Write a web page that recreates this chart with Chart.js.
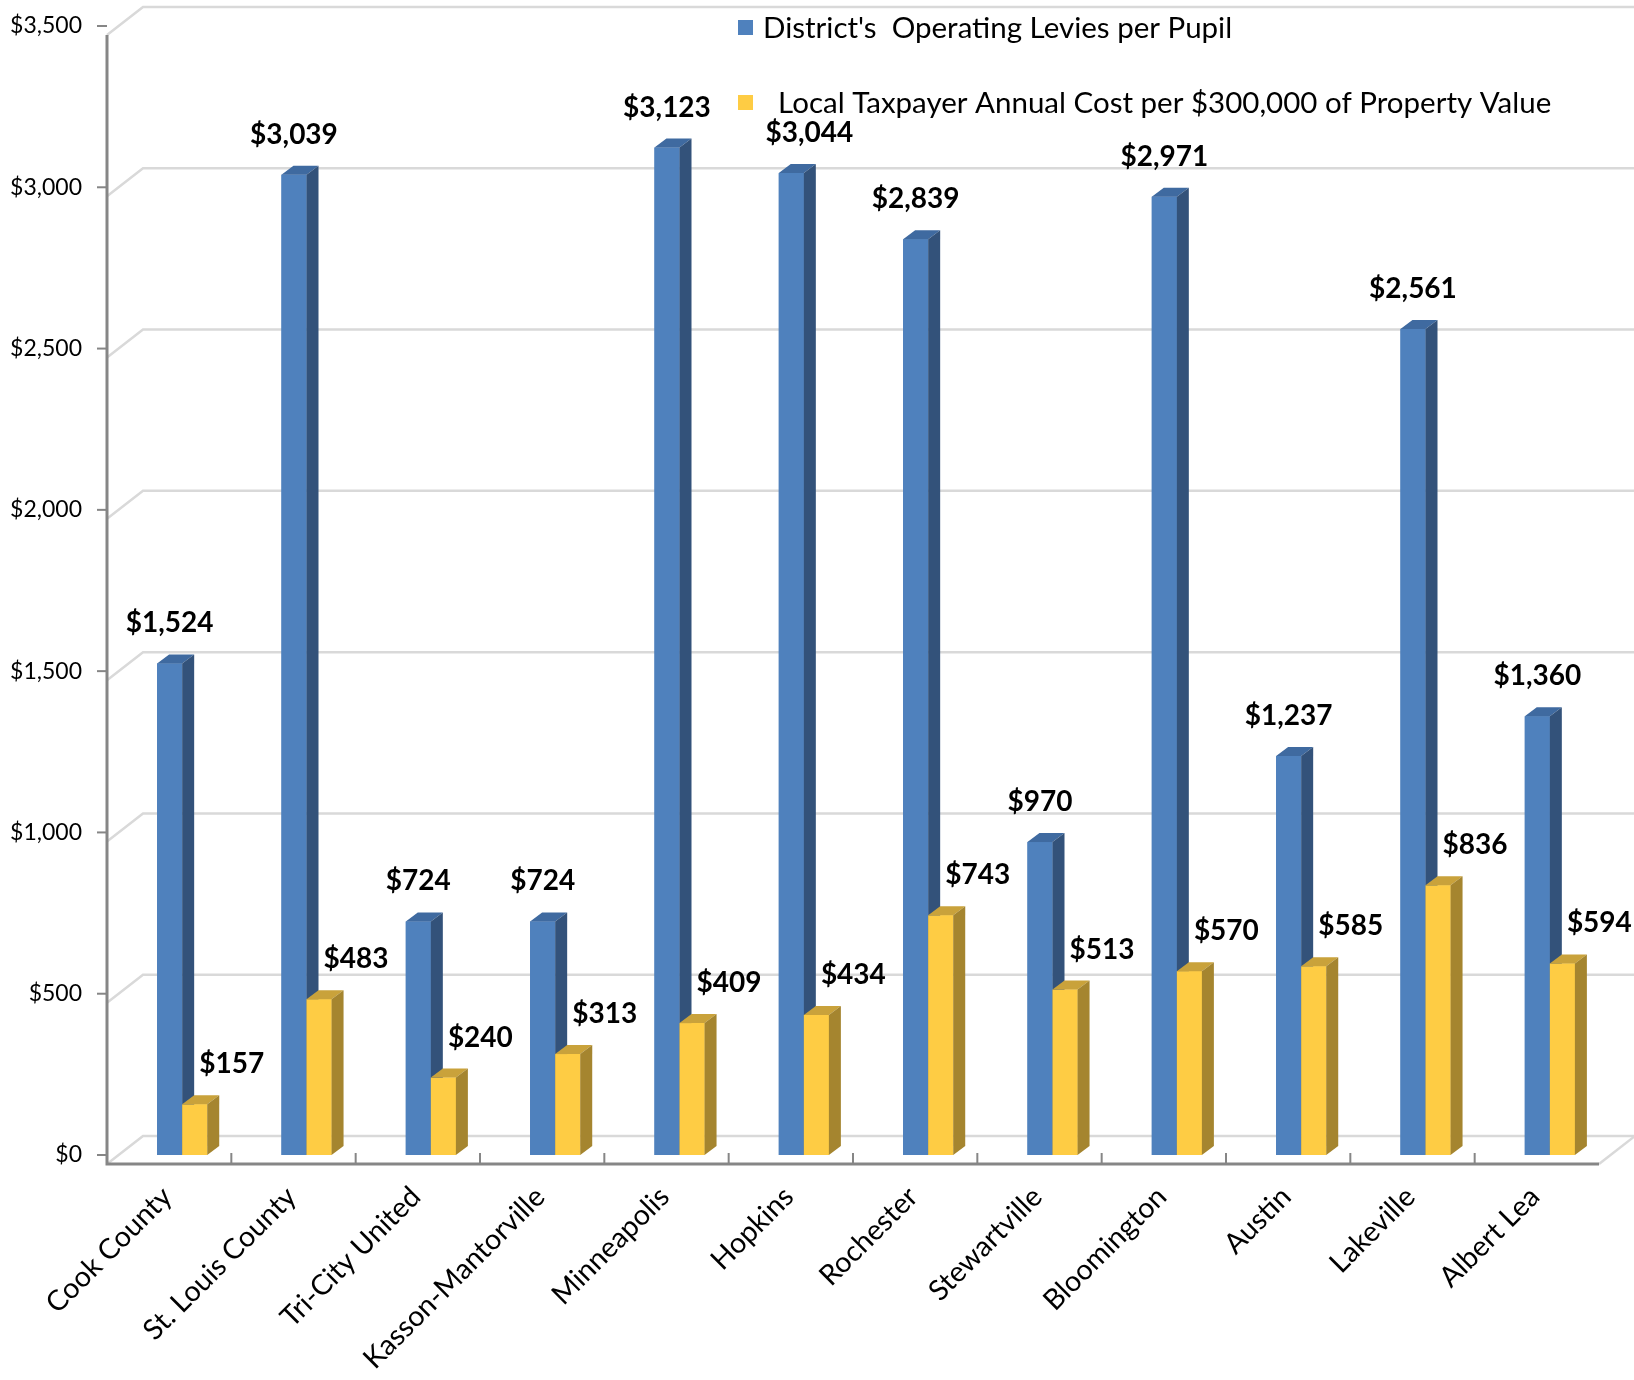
<!DOCTYPE html>
<html>
<head>
<meta charset="utf-8">
<script src="https://cdn.jsdelivr.net/npm/chart.js@4.4.1/dist/chart.umd.min.js"></script>
<style>
  html, body { margin: 0; padding: 0; background: #fff; }
  #wrap { width: 1634px; height: 1380px; position: relative; }
</style>
</head>
<body>
<div id="wrap"><canvas id="chart"></canvas></div>
<script>
// === Data ===
const districts = ["Cook County", "St. Louis County", "Tri-City United", "Kasson-Mantorville", "Minneapolis", "Hopkins",
  "Rochester", "Stewartville", "Bloomington", "Austin", "Lakeville", "Albert Lea"];
const leviesPerPupil = [1524, 3039, 724, 724, 3123, 3044, 2839, 970, 2971, 1237, 2561, 1360];
const taxpayerCost = [157, 483, 240, 313, 409, 434, 743, 513, 570, 585, 836, 594];
const yTicks = [0, 500, 1000, 1500, 2000, 2500, 3000, 3500];
const seriesNames = ["District's  Operating Levies per Pupil", "  Local Taxpayer Annual Cost per $300,000 of Property Value"];

const FONT = "Lato, 'Open Sans', sans-serif";
const money = (v) => "$" + Number(v).toLocaleString("en-US");

// 3D offsets (pixels)
const DEPTH = { dx: 12, dy: -9 };     // bar depth
const FRONT = { dx: -13, dy: 9 };     // front plane of the box
const WALL = { dx: 23, dy: -19 };     // back wall

const faces = [
  { front: "#4f81bd", side: "#33527a", top: "#3f6aa0" },
  { front: "#fecc44", side: "#a5852f", top: "#c9a23b" },
];

const box3d = {
  id: "box3d",
  beforeDatasetsDraw(chart) {
    const { ctx, chartArea: a, scales: { y } } = chart;
    ctx.save();
    ctx.strokeStyle = "#d9d9d9";
    ctx.lineWidth = 2.5;
    yTicks.forEach((v) => {
      const py = y.getPixelForValue(v);
      ctx.beginPath();
      ctx.moveTo(a.left + FRONT.dx, py + FRONT.dy);
      ctx.lineTo(a.left + WALL.dx, py + WALL.dy);
      ctx.lineTo(chart.width, py + WALL.dy);
      ctx.stroke();
    });
    // floor, right side
    const y0 = y.getPixelForValue(0);
    ctx.beginPath();
    ctx.moveTo(a.right + FRONT.dx, y0 + FRONT.dy);
    ctx.lineTo(a.right + WALL.dx, y0 + WALL.dy);
    ctx.stroke();
    ctx.restore();
  },
  afterDatasetsDraw(chart) {
    const { ctx, chartArea: a, scales: { y } } = chart;
    ctx.save();
    const metas = [chart.getDatasetMeta(0), chart.getDatasetMeta(1)];
    districts.forEach((_, i) => {
      metas.forEach((meta, d) => {
        const b = meta.data[i].getProps(["x", "y", "base", "width"], true);
        const l = b.x - b.width / 2, r = b.x + b.width / 2;
        const f = faces[d];
        ctx.fillStyle = f.front;
        ctx.fillRect(l, b.y, b.width, b.base - b.y);
        // top
        ctx.fillStyle = f.top;
        ctx.beginPath();
        ctx.moveTo(l, b.y);
        ctx.lineTo(l + DEPTH.dx, b.y + DEPTH.dy);
        ctx.lineTo(r + DEPTH.dx, b.y + DEPTH.dy);
        ctx.lineTo(r, b.y);
        ctx.closePath();
        ctx.fill();
        // side
        ctx.fillStyle = f.side;
        ctx.beginPath();
        ctx.moveTo(r, b.y);
        ctx.lineTo(r + DEPTH.dx, b.y + DEPTH.dy);
        ctx.lineTo(r + DEPTH.dx, b.base + DEPTH.dy);
        ctx.lineTo(r, b.base);
        ctx.closePath();
        ctx.fill();
      });
    });

    // === Front axes ===
    const y0 = y.getPixelForValue(0);
    const yTop = y.getPixelForValue(3500);
    const ax = a.left + FRONT.dx;
    ctx.strokeStyle = "#868686";
    ctx.lineWidth = 3;
    ctx.beginPath();
    ctx.moveTo(ax, yTop + FRONT.dy);
    ctx.lineTo(ax, y0 + FRONT.dy);
    ctx.lineTo(a.right + FRONT.dx, y0 + FRONT.dy);
    ctx.stroke();
    ctx.lineWidth = 2;
    yTicks.forEach((v) => {
      const py = y.getPixelForValue(v);
      ctx.beginPath();
      ctx.moveTo(ax - 10, py);
      ctx.lineTo(ax, py);
      ctx.stroke();
    });
    const catW = (a.right - a.left) / districts.length;
    for (let k = 1; k < districts.length; k++) {
      const px = a.left + k * catW + FRONT.dx;
      ctx.beginPath();
      ctx.moveTo(px, y0 + FRONT.dy);
      ctx.lineTo(px, y0 + FRONT.dy - 11);
      ctx.stroke();
    }

    // === Value labels ===
    ctx.fillStyle = "#000";
    ctx.font = "bold 28px " + FONT;
    ctx.textAlign = "center";
    ctx.textBaseline = "middle";
    const nudge = { 5: 18 };
    metas.forEach((meta, d) => {
      const vals = d === 0 ? leviesPerPupil : taxpayerCost;
      meta.data.forEach((bar, i) => {
        const b = bar.getProps(["x", "y"], true);
        const dx = d === 0 ? (nudge[i] || 0) : 37;
        ctx.fillText(money(vals[i]), b.x + dx, b.y - 40);
      });
    });
    ctx.restore();
  },
  afterDraw(chart) {
    // === Legend ===
    const { ctx } = chart;
    ctx.save();
    ctx.font = "29.5px " + FONT;
    ctx.textBaseline = "middle";
    ctx.textAlign = "left";
    [28, 103].forEach((cy, i) => {
      ctx.fillStyle = faces[i].front;
      ctx.fillRect(738, cy - 8, 15, 15);
      ctx.fillStyle = "#000";
      ctx.fillText(seriesNames[i], 763, cy);
    });
    ctx.restore();
  },
};

const ctx = document.getElementById("chart");
new Chart(ctx, {
  type: "bar",
  data: {
    labels: districts,
    datasets: [
      { label: seriesNames[0], data: leviesPerPupil, backgroundColor: faces[0].front },
      { label: seriesNames[1], data: taxpayerCost, backgroundColor: faces[1].front },
    ],
  },
  options: {
    responsive: true,
    maintainAspectRatio: false,
    animation: false,
    devicePixelRatio: 1,
    layout: { padding: { top: 26, right: 22, left: 0, bottom: 0 } },
    datasets: { bar: { barPercentage: 1, categoryPercentage: 0.403 } },
    plugins: { legend: { display: false }, tooltip: { enabled: false } },
    scales: {
      x: {
        grid: { display: false },
        border: { display: false },
        ticks: {
          minRotation: 45,
          maxRotation: 45,
          autoSkip: false,
          padding: 17,
          labelOffset: -15,
          color: "#000",
          font: { family: FONT, size: 28.5 },
        },
        afterFit: (scale) => { scale.height = 225; },
      },
      y: {
        min: 0,
        max: 3500,
        grid: { display: false, drawTicks: false },
        border: { display: false },
        ticks: {
          stepSize: 500,
          padding: 38,
          color: "#000",
          font: { family: FONT, size: 23 },
          callback: (v) => money(v),
        },
        afterFit: (scale) => {
          scale.width = 120;
          scale.paddingTop = 0;
          scale.paddingBottom = 0;
        },
      },
    },
  },
  plugins: [box3d],
});
</script>
</body>
</html>
